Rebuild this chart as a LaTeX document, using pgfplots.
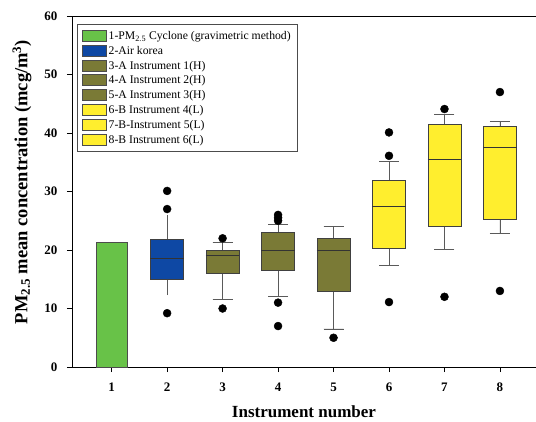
\documentclass[border=0pt]{standalone}
\usepackage{fontspec}
\setmainfont{Liberation Serif}
\usepackage{pgfplots}
\pgfplotsset{compat=1.18}
\usepgfplotslibrary{statistics}
\definecolor{cgreen}{RGB}{104,194,72}
\definecolor{cblue}{RGB}{14,72,164}
\definecolor{colive}{RGB}{122,122,54}
\definecolor{cyellow}{RGB}{255,238,46}
\definecolor{cwhisk}{RGB}{90,90,90}
\begin{document}
\begin{tikzpicture}
\path[use as bounding box] (-72pt,-54pt) rectangle (464pt,367pt);
\begin{axis}[
  scale only axis, width=464pt, height=351pt,
  xmin=0.285, xmax=8.65, ymin=0, ymax=60,
  axis x line*=box, axis y line*=left,
  axis line style={-, black, line width=0.8pt},
  xtick={1,...,8}, ytick={0,10,...,60},
  xtick pos=lower, ytick pos=left,
  tick align=outside, major tick length=5pt,
  tick style={black, line width=0.6pt},
  /pgf/number format/assume math mode=true,
  ticklabel style={font=\bfseries\fontsize{13}{15}\selectfont},
  xticklabel style={yshift=-7pt},
  yticklabel style={xshift=-6pt},
  xlabel={Instrument number},
  ylabel={PM\textsubscript{2.5} mean concentration (mcg/m\textsuperscript{3})},
  every axis x label/.style={at={(axis description cs:0.5,-0.128)}, anchor=center,
    font=\bfseries\fontsize{17}{19}\selectfont},
  every axis y label/.style={at={(axis description cs:-0.1078,0.527)}, anchor=center, rotate=90,
    font=\bfseries\fontsize{18.5}{20}\selectfont},
  legend style={at={(0.011,0.977)}, anchor=north west, draw=black!70,
    font=\fontsize{11.7}{13}\selectfont, row sep=1.2pt, inner sep=5pt},
  legend cell align=left,
  legend image code/.code={\draw[#1] (0pt,-5pt) rectangle (24pt,6pt);},
  boxplot/draw direction=y,
  boxplot/box extend=0.6,
  boxplot/whisker extend=0.36,
  boxplot/every whisker/.style={cwhisk, line width=0.8pt},
  boxplot/every median/.style={black!80, line width=0.8pt},
  boxplot/every box/.style={draw=black!75, line width=0.6pt},
  mark size=4pt,
]
\addlegendimage{fill=cgreen, draw=black!70}
\addlegendentry{1-PM\textsubscript{2.5} Cyclone (gravimetric method)}
\addlegendimage{fill=cblue, draw=black!70}
\addlegendentry{2-Air korea}
\addlegendimage{fill=colive, draw=black!70}
\addlegendentry{3-A Instrument 1(H)}
\addlegendimage{fill=colive, draw=black!70}
\addlegendentry{4-A Instrument 2(H)}
\addlegendimage{fill=colive, draw=black!70}
\addlegendentry{5-A Instrument 3(H)}
\addlegendimage{fill=cyellow, draw=black!70}
\addlegendentry{6-B Instrument 4(L)}
\addlegendimage{fill=cyellow, draw=black!70}
\addlegendentry{7-B-Instrument 5(L)}
\addlegendimage{fill=cyellow, draw=black!70}
\addlegendentry{8-B Instrument 6(L)}

\addplot[forget plot, ybar, bar width=0.565, fill=cgreen, draw=black!70, line width=0.6pt] coordinates {(1,21.25)};

\addplot[forget plot, fill=cblue, mark=*, mark options={black, fill=black},
  boxplot prepared={draw position=2, lower whisker=12.3, lower quartile=15.0,
  median=18.5, upper quartile=21.8, upper whisker=26.0, whisker extend=0}]
  coordinates {(2,30.1) (2,27.0) (2,9.2)};
\addplot[forget plot, fill=colive, mark=*, mark options={black, fill=black},
  boxplot prepared={draw position=3, lower whisker=11.6, lower quartile=16.0,
  median=19.0, upper quartile=20.0, upper whisker=21.25}]
  coordinates {(3,22.0) (3,10.0)};
\addplot[forget plot, fill=colive, mark=*, mark options={black, fill=black},
  boxplot prepared={draw position=4, lower whisker=12.1, lower quartile=16.5,
  median=20.0, upper quartile=23.0, upper whisker=24.4}]
  coordinates {(4,25.0) (4,25.5) (4,26.0) (4,11.0) (4,7.0)};
\addplot[forget plot, fill=colive, mark=*, mark options={black, fill=black},
  boxplot prepared={draw position=5, lower whisker=6.5, lower quartile=13.0,
  median=20.0, upper quartile=22.0, upper whisker=24.0}]
  coordinates {(5,5.0)};
\addplot[forget plot, fill=cyellow, mark=*, mark options={black, fill=black},
  boxplot prepared={draw position=6, lower whisker=17.3, lower quartile=20.3,
  median=27.5, upper quartile=32.0, upper whisker=35.1}]
  coordinates {(6,36.1) (6,40.1) (6,11.1)};
\addplot[forget plot, fill=cyellow, mark=*, mark options={black, fill=black},
  boxplot prepared={draw position=7, lower whisker=20.1, lower quartile=24.0,
  median=35.5, upper quartile=41.5, upper whisker=43.1}]
  coordinates {(7,44.1) (7,12.0)};
\addplot[forget plot, fill=cyellow, mark=*, mark options={black, fill=black},
  boxplot prepared={draw position=8, lower whisker=22.85, lower quartile=25.3,
  median=37.6, upper quartile=41.1, upper whisker=42.05}]
  coordinates {(8,47.0) (8,13.0)};
\end{axis}
\end{tikzpicture}
\end{document}
